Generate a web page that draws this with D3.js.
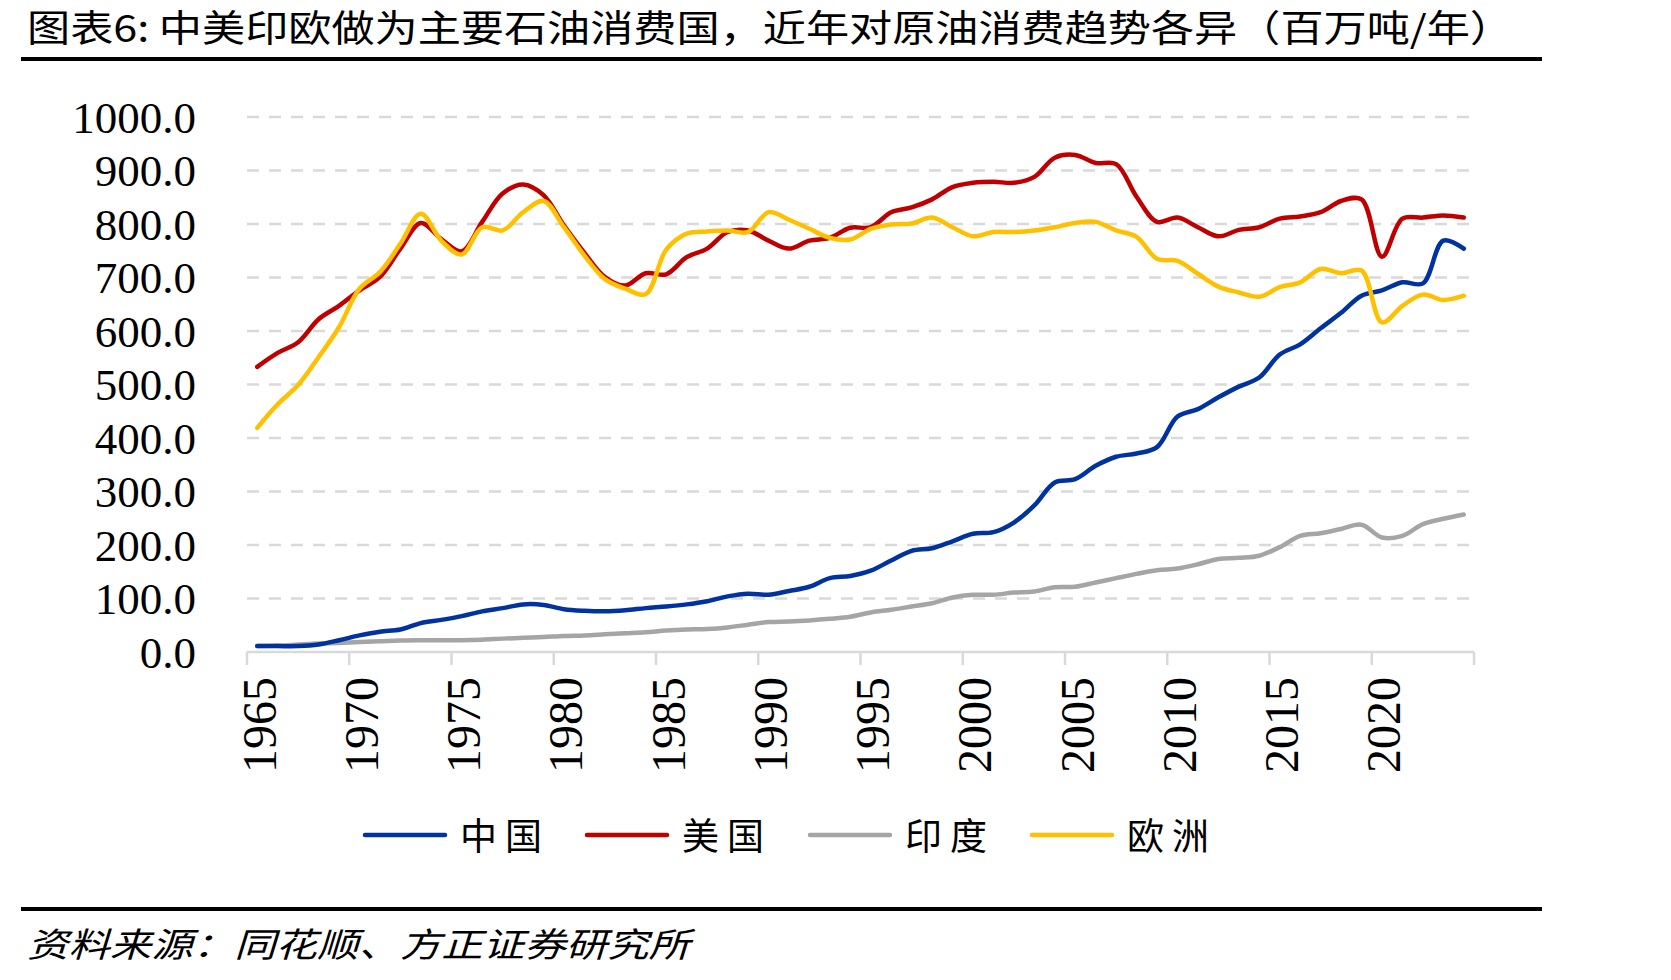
<!DOCTYPE html>
<html><head><meta charset="utf-8">
<script src="https://cdn.jsdelivr.net/npm/d3@7/dist/d3.min.js"></script>
<style>html,body{margin:0;padding:0;background:#fff;}svg{display:block;}</style>
</head><body>
<svg id="chart" width="1671" height="980"></svg>
<script>
const title = "图表6: 中美印欧做为主要石油消费国，近年对原油消费趋势各异（百万吨/年）";
const source = "资料来源：同花顺、方正证券研究所";
const years = d3.range(1965, 2025);
const yearLabels = [1965,1970,1975,1980,1985,1990,1995,2000,2005,2010,2015,2020];
const yTicks = [0,100,200,300,400,500,600,700,800,900,1000];
const seriesNames = ["中国","美国","印度","欧洲"];
const seriesColors = ["#0033A0","#C00000","#A5A5A5","#FFC000"];

const china = [11,11,11,14,22,31,38,42,54,60, 67,76,82,89,88,80,77,76,78,82,
  85,89,95,104,109,107,114,122,138,142, 152,171,189,194,207,221,224,242,274,317,
  323,348,365,371,383,440,454,476,496,513, 556,575,605,634,666,676,691,689,769,754];
const usa = [533,559,579,622,647,676,701,754,802,772, 749,804,857,874,854,797,746,701,685,708,
  706,738,754,785,788,769,754,769,774,793, 794,822,831,846,869,877,879,877,888,924,
  929,914,912,851,804,812,794,777,789,794, 810,814,822,843,846,739,810,812,816,812];
const india = [11,12,14,16,17,18.5,20,21.6,22,22, 22,23,25,26.5,28,30,31,33,35,37,
  40,42,43,46,51,56,57,59,62,66, 74,79,85,91,102,107,107,111,113,121,
  122,130,138,146,153,156,164,174,176,180, 196,217,222,230,238,214,217,239,249,257];
const europe = [419,463,499,551,607,679,710,763,819,769, 743,794,788,822,843,794,741,697,679,669,
  752,782,786,788,785,822,808,791,774,771, 791,799,801,812,794,777,785,785,788,794,
  802,804,788,776,735,731,707,683,672,664, 682,691,716,708,713,616,647,668,658,666];
const seriesValues = [china, usa, india, europe];

const svg = d3.select("#chart");
svg.append("rect").attr("width",1671).attr("height",980).attr("fill","#fff");

const x = d3.scaleBand().domain(years).range([247,1474]).padding(0);
const y = d3.scaleLinear().domain([0,1000]).range([652,117]);
const cx = d => x(d) + x.bandwidth()/2;

// Title
svg.append("text").attr("x",27).attr("y",42)
  .attr("font-family","'Noto Sans CJK SC'").attr("font-size",37)
  .attr("textLength",1486).attr("lengthAdjust","spacingAndGlyphs")
  .attr("fill","#000").text(title);
svg.append("line").attr("x1",21).attr("x2",1542).attr("y1",59).attr("y2",59)
  .attr("stroke","#000").attr("stroke-width",4);

// Gridlines
svg.append("g").selectAll("line").data(yTicks.filter(d=>d>0)).join("line")
  .attr("x1",247).attr("x2",1474).attr("y1",d=>y(d)).attr("y2",d=>y(d))
  .attr("stroke","#D9D9D9").attr("stroke-width",2.5).attr("stroke-dasharray","12,10");

// Y axis labels
const yAxis = d3.axisLeft(y).tickValues(yTicks).tickFormat(d=>d.toFixed(1)).tickSize(0).tickPadding(0);
const yg = svg.append("g").attr("transform","translate(196,0)").call(yAxis);
yg.select(".domain").remove();
yg.selectAll("text").attr("font-family","'Liberation Serif','Times New Roman',serif")
  .attr("font-size",45).attr("fill","#000").attr("dy","0.34em");

// X axis line and ticks
svg.append("line").attr("x1",247).attr("x2",1474).attr("y1",652).attr("y2",652)
  .attr("stroke","#D9D9D9").attr("stroke-width",2.5);
const tickPos = yearLabels.map(d=>x(d)).concat([x.range()[1]]);
svg.append("g").selectAll("line").data(tickPos).join("line")
  .attr("x1",d=>d).attr("x2",d=>d).attr("y1",652).attr("y2",665)
  .attr("stroke","#D9D9D9").attr("stroke-width",2.5);
svg.append("g").selectAll("text").data(yearLabels).join("text")
  .attr("transform",d=>`translate(${cx(d)+2},677) rotate(-90)`)
  .attr("text-anchor","end").attr("dominant-baseline","central")
  .attr("font-family","'Liberation Serif','Times New Roman',serif")
  .attr("font-size",48).attr("fill","#000").text(d=>d);

// Lines
const line = d3.line().x((d,i)=>cx(years[i])).y(d=>y(d)).curve(d3.curveCatmullRom.alpha(0.5));
[2,0,1,3].forEach(k=>{
  svg.append("path").datum(seriesValues[k]).attr("d",line)
    .attr("fill","none").attr("stroke",seriesColors[k]).attr("stroke-width",4.5)
    .attr("stroke-linejoin","round").attr("stroke-linecap","round");
});

// Legend
const legX = [365,587,810,1032];
const lg = svg.append("g");
seriesNames.forEach((n,i)=>{
  lg.append("line").attr("x1",legX[i]).attr("x2",legX[i]+80).attr("y1",835).attr("y2",835)
    .attr("stroke",seriesColors[i]).attr("stroke-width",4.5).attr("stroke-linecap","round");
  lg.append("text").attr("x",legX[i]+95).attr("y",850)
    .attr("font-family","'Noto Sans CJK SC'").attr("font-size",37)
    .attr("textLength",82).attr("lengthAdjust","spacing")
    .attr("fill","#000").text(n);
});

// Footer
svg.append("line").attr("x1",21).attr("x2",1542).attr("y1",909).attr("y2",909)
  .attr("stroke","#000").attr("stroke-width",4);
svg.append("text").attr("x",27).attr("y",957)
  .attr("font-family","'Noto Sans CJK SC'").attr("font-size",34).attr("font-style","italic")
  .attr("textLength",663).attr("lengthAdjust","spacingAndGlyphs")
  .attr("fill","#000").text(source);
</script>
</body></html>
